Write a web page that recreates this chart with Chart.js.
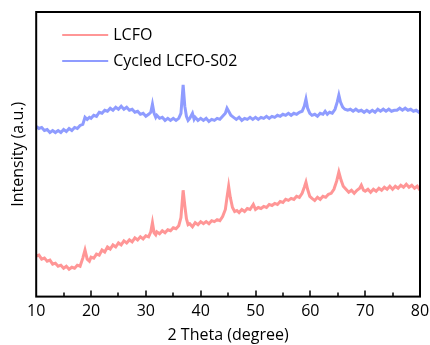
<!DOCTYPE html>
<html>
<head>
<meta charset="utf-8">
<script src="https://cdn.jsdelivr.net/npm/chart.js@4.4.0/dist/chart.umd.min.js"></script>
<style>
  html, body { margin: 0; padding: 0; background: #fff; }
  #wrap { width: 430px; height: 345px; }
</style>
</head>
<body>
<div id="wrap"><canvas id="xrd"></canvas></div>
<script>
// XRD patterns, intensity in arbitrary units
var lcfoTheta = [10, 10.5, 11, 11.5, 12, 12.5, 13, 13.5, 14, 14.5, 15, 15.5, 16, 16.5, 17, 17.5, 18, 18.5, 18.9, 19.3, 19.7, 20, 20.5, 21, 21.5, 22, 22.5, 23, 23.5, 24, 24.5, 25, 25.5, 26, 26.5, 27, 27.5, 28, 28.5, 29, 29.5, 30, 30.5, 30.9, 31.2, 31.5, 31.8, 32, 32.5, 33, 33.5, 34, 34.5, 35, 35.5, 36, 36.4, 36.8, 37.1, 37.4, 37.7, 38, 38.5, 39, 39.5, 40, 40.5, 41, 41.5, 42, 42.5, 43, 43.5, 44, 44.5, 44.8, 45.1, 45.4, 45.8, 46.2, 46.6, 47, 47.5, 48, 48.5, 49, 49.6, 50, 50.5, 51, 51.5, 52, 52.5, 53, 53.5, 54, 54.5, 55, 55.5, 56, 56.5, 57, 57.5, 58, 58.5, 58.9, 59.2, 59.5, 59.9, 60.3, 60.8, 61.3, 61.8, 62.3, 62.8, 63.3, 63.8, 64.3, 64.8, 65.2, 65.6, 66, 66.5, 67, 67.5, 68, 68.5, 69, 69.3, 69.7, 70, 70.5, 71, 71.5, 72, 72.5, 73, 73.5, 74, 74.5, 75, 75.5, 76, 76.5, 77, 77.5, 78, 78.5, 79, 79.5, 80];
var lcfoInt = [40, 41, 37, 38, 35, 36, 32, 33, 30, 31, 28, 30, 27, 29, 28, 31, 30, 38, 46, 37, 35, 39, 38, 42, 41, 46, 44, 49, 47, 51, 49, 53, 51, 55, 53, 56, 54, 58, 56, 59, 57, 60, 59, 64, 73, 63, 61, 64, 62, 65, 63, 66, 65, 68, 67, 70, 78, 105, 90, 77, 71, 72, 69, 73, 71, 74, 72, 74, 72, 75, 74, 76, 75, 79, 86, 98, 109, 98, 88, 84, 85, 83, 86, 84, 87, 86, 91, 86, 88, 87, 89, 88, 91, 90, 92, 91, 94, 93, 96, 95, 97, 96, 99, 98, 102, 108, 113, 106, 99, 97, 95, 98, 96, 99, 98, 101, 102, 106, 114, 123, 115, 109, 106, 103, 105, 102, 105, 107, 110, 105, 104, 106, 103, 106, 104, 107, 105, 108, 106, 109, 106, 109, 107, 110, 108, 111, 108, 110, 107, 109, 105];

var cycledTheta = [10, 10.5, 11, 11.5, 12, 12.5, 13, 13.5, 14, 14.5, 15, 15.5, 16, 16.5, 17, 17.5, 18, 18.5, 18.9, 19.3, 19.7, 20, 20.5, 21, 21.5, 22, 22.5, 23, 23.5, 24, 24.5, 25, 25.5, 26, 26.5, 27, 27.5, 28, 28.5, 29, 29.5, 30, 30.5, 30.9, 31.2, 31.5, 31.8, 32, 32.5, 33, 33.5, 34, 34.5, 35, 35.5, 36, 36.4, 36.8, 37.1, 37.4, 37.7, 38, 38.5, 38.8, 39, 39.5, 40, 40.5, 41, 41.5, 42, 42.5, 43, 43.5, 44, 44.5, 44.8, 45.1, 45.5, 46, 46.5, 47, 47.5, 48, 48.5, 49, 49.5, 50, 50.5, 51, 51.5, 52, 52.5, 53, 53.5, 54, 54.5, 55, 55.5, 56, 56.5, 57, 57.5, 58, 58.5, 58.9, 59.2, 59.5, 59.9, 60.3, 60.8, 61.3, 61.8, 62.3, 62.7, 63.1, 63.5, 64, 64.5, 64.9, 65.2, 65.5, 65.9, 66.3, 66.8, 67.3, 67.8, 68.3, 68.8, 69.3, 69.8, 70.3, 70.8, 71.3, 71.8, 72.3, 72.8, 73.3, 73.8, 74.3, 74.8, 75.3, 75.8, 76.3, 76.8, 77.3, 77.8, 78.3, 78.8, 79.3, 79.8, 80];
var cycledInt = [168, 166, 167, 164, 165, 162, 164, 162, 164, 162, 165, 163, 166, 164, 167, 166, 169, 170, 177, 175, 177, 176, 179, 178, 182, 181, 184, 183, 186, 184, 187, 185, 188, 185, 187, 184, 185, 182, 183, 180, 181, 178, 180, 182, 190, 181, 177, 179, 176, 177, 174, 176, 174, 176, 174, 176, 181, 209, 188, 178, 174, 176, 181, 175, 177, 174, 176, 174, 176, 173, 175, 174, 176, 175, 178, 181, 186, 183, 179, 177, 175, 177, 174, 176, 175, 177, 175, 177, 175, 177, 176, 178, 176, 178, 177, 179, 178, 180, 179, 181, 179, 181, 180, 182, 183, 188, 195, 186, 181, 179, 180, 178, 181, 180, 183, 180, 182, 181, 185, 192, 199, 192, 187, 185, 184, 185, 183, 185, 183, 184, 182, 184, 182, 184, 182, 185, 183, 185, 183, 185, 183, 184, 184, 186, 184, 186, 184, 185, 183, 184, 182, 183];

var xTicks = [10, 20, 30, 40, 50, 60, 70, 80];

function pairs(xs, ys) {
  var out = [];
  for (var i = 0; i < xs.length; i++) out.push({ x: xs[i], y: ys[i] });
  return out;
}

var FONT = "'Open Sans', sans-serif";
var FS = 16;

// frame, inward ticks and the legend inside the plot
var framePlugin = {
  id: "frame",
  afterDraw: function (chart) {
    var ctx = chart.ctx, a = chart.chartArea, xs = chart.scales.x;
    ctx.save();
    ctx.strokeStyle = "#000";
    ctx.lineWidth = 2;
    ctx.strokeRect(a.left, a.top, a.right - a.left, a.bottom - a.top);
    ctx.lineWidth = 1.5;
    for (var v = 15; v < 80; v += 5) {
      var px = Math.round(xs.getPixelForValue(v));
      var len = (v % 10 === 0) ? 6 : 4;
      ctx.beginPath();
      ctx.moveTo(px, a.bottom);
      ctx.lineTo(px, a.bottom - len);
      ctx.stroke();
    }
    // legend
    ctx.font = FS + "px " + FONT;
    ctx.textBaseline = "middle";
    chart.data.datasets.forEach(function (ds, i) {
      var y = a.top + 23 + i * 26;
      ctx.strokeStyle = ds.borderColor;
      ctx.lineWidth = 2;
      ctx.beginPath();
      ctx.moveTo(a.left + 26, y);
      ctx.lineTo(a.left + 72, y);
      ctx.stroke();
      ctx.fillStyle = "#000";
      ctx.fillText(ds.label, a.left + 77, y);
    });
    ctx.restore();
  }
};

new Chart(document.getElementById("xrd"), {
  type: "line",
  data: {
    datasets: [
      {
        label: "LCFO",
        data: pairs(lcfoTheta, lcfoInt),
        borderColor: "#ff9696",
        borderWidth: 3,
        pointRadius: 0,
        tension: 0
      },
      {
        label: "Cycled LCFO-S02",
        data: pairs(cycledTheta, cycledInt),
        borderColor: "#8f9cff",
        borderWidth: 3,
        pointRadius: 0,
        tension: 0
      }
    ]
  },
  options: {
    responsive: true,
    maintainAspectRatio: false,
    animation: false,
    layout: { padding: { left: 5, right: 0, top: 12, bottom: 0 } },
    plugins: {
      legend: { display: false },
      tooltip: { enabled: false }
    },
    scales: {
      x: {
        type: "linear",
        min: 10,
        max: 80,
        afterBuildTicks: function (scale) {
          scale.ticks = xTicks.map(function (v) { return { value: v }; });
        },
        afterFit: function (scale) {
          scale.paddingRight = 10;
        },
        grid: { display: false, drawTicks: false },
        border: { display: false },
        ticks: { color: "#000", padding: 5, maxRotation: 0, font: { family: FONT, size: FS } },
        title: {
          display: true,
          text: "2 Theta (degree)",
          color: "#000",
          padding: { top: 0, bottom: 0 },
          font: { family: FONT, size: FS }
        }
      },
      y: {
        min: 0,
        max: 281,
        grid: { display: false, drawTicks: false },
        border: { display: false },
        ticks: { display: false },
        title: {
          display: true,
          text: "Intensity (a.u.)",
          color: "#000",
          padding: { top: 4, bottom: 8 },
          font: { family: FONT, size: FS }
        }
      }
    }
  },
  plugins: [framePlugin]
});
</script>
</body>
</html>
